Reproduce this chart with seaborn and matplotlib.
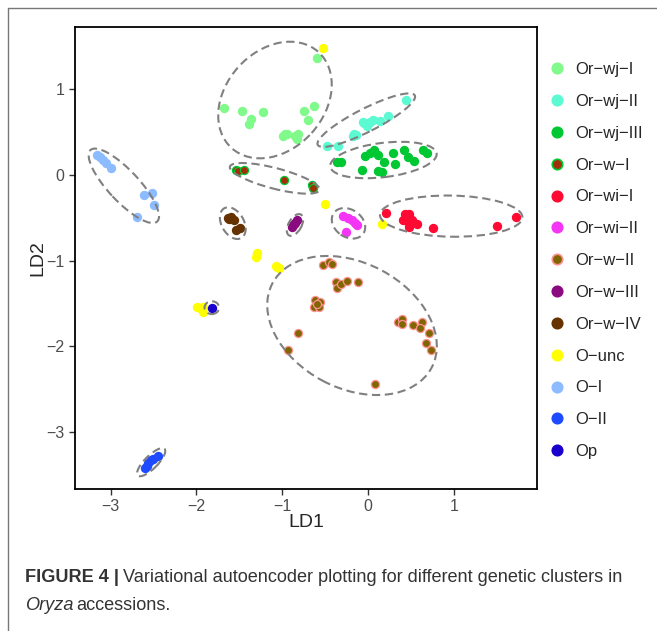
import matplotlib
matplotlib.use("Agg")
import matplotlib.pyplot as plt
from matplotlib.patches import Ellipse
from matplotlib.lines import Line2D
import pandas as pd
import seaborn as sns

# --- cluster coordinates (LD1, LD2) ---
or_wj_i_ld1 = [-0.59, -1.675, -1.465, -1.22, -1.364, -1.387, -0.742, -0.626, -0.696, -0.967, -0.94, -0.851, -0.812, -0.831, -0.987]
or_wj_i_ld2 = [1.36, 0.78, 0.75, 0.73, 0.653, 0.598, 0.747, 0.805, 0.638, 0.475, 0.48, 0.459, 0.475, 0.424, 0.459]

or_wj_ii_ld1 = [0.446, 0.23, 0.14, 0.062, 0.023, -0.043, -0.062, -0.015, -0.16, -0.178, -0.143, -0.478, -0.353]
or_wj_ii_ld2 = [0.875, 0.692, 0.63, 0.642, 0.622, 0.603, 0.622, 0.572, 0.475, 0.459, 0.467, 0.342, 0.338]

or_wj_iii_ld1 = [-0.365, -0.315, -0.066, -0.035, 0.023, 0.07, 0.117, 0.186, 0.117, 0.163, 0.288, 0.315, 0.423, 0.463, 0.536, 0.645, 0.691]
or_wj_iii_ld2 = [0.148, 0.152, 0.058, 0.222, 0.26, 0.286, 0.233, 0.146, 0.05, 0.038, 0.253, 0.131, 0.292, 0.21, 0.163, 0.292, 0.26]

or_w_i_ld1 = [-1.544, -1.515, -1.449, -0.983, -0.653, -0.637]
or_w_i_ld2 = [0.064, 0.05, 0.058, -0.064, -0.117, -0.152]

or_wi_i_ld1 = [0.21, 0.431, 0.478, 0.411, 0.458, 0.509, 0.481, 0.575, 0.761, 1.5, 1.725]
or_wi_i_ld2 = [-0.447, -0.455, -0.455, -0.525, -0.533, -0.525, -0.603, -0.572, -0.622, -0.592, -0.494]

or_wi_ii_ld1 = [-0.288, -0.23, -0.186, -0.152, -0.125, -0.26]
or_wi_ii_ld2 = [-0.475, -0.505, -0.525, -0.557, -0.583, -0.662]

or_w_ii_ld1 = [-0.528, -0.451, -0.423, -0.373, -0.358, -0.315, -0.241, -0.113, -0.618, -0.559, -0.629, -0.571, -0.594,
               -0.812, -0.936, 0.353, 0.393, 0.393, 0.528, 0.626, 0.606, 0.714, 0.676, 0.734, 0.085]
or_w_ii_ld2 = [-1.05, -1.012, -1.038, -1.245, -1.322, -1.272, -1.233, -1.245, -1.459, -1.485, -1.544, -1.544, -1.505,
               -1.847, -2.042, -1.712, -1.684, -1.742, -1.75, -1.712, -1.789, -1.847, -1.964, -2.042, -2.439]

or_w_iii_ld1 = [-0.89, -0.85, -0.87, -0.83, -0.86]
or_w_iii_ld2 = [-0.61, -0.56, -0.585, -0.53, -0.57]

or_w_iv_ld1 = [-1.637, -1.597, -1.562, -1.535, -1.492, -1.62]
or_w_iv_ld2 = [-0.502, -0.487, -0.525, -0.645, -0.616, -0.51]

o_unc_ld1 = [-0.528, -0.5, 0.16, -1.297, -1.305, -1.072, -1.037, -1.06, -1.958, -1.92, -1.927, -1.99]
o_unc_ld2 = [1.478, -0.338, -0.575, -0.914, -0.957, -1.062, -1.089, -1.07, -1.555, -1.595, -1.537, -1.54]

o_i_ld1 = [-3.162, -3.124, -3.085, -3.054, -2.999, -2.607, -2.521, -2.491, -2.689]
o_i_ld2 = [0.233, 0.214, 0.175, 0.137, 0.078, -0.233, -0.207, -0.35, -0.494]

o_ii_ld1 = [-2.599, -2.561, -2.533, -2.502, -2.451, -2.576]
o_ii_ld2 = [-3.422, -3.364, -3.326, -3.317, -3.279, -3.396]

op_ld1 = [-1.822]
op_ld2 = [-1.548]

cluster_names = ["Or\u2212wj\u2212I", "Or\u2212wj\u2212II", "Or\u2212wj\u2212III", "Or\u2212w\u2212I", "Or\u2212wi\u2212I",
                 "Or\u2212wi\u2212II", "Or\u2212w\u2212II", "Or\u2212w\u2212III", "Or\u2212w\u2212IV", "O\u2212unc",
                 "O\u2212I", "O\u2212II", "Op"]
cluster_ld1 = [or_wj_i_ld1, or_wj_ii_ld1, or_wj_iii_ld1, or_w_i_ld1, or_wi_i_ld1, or_wi_ii_ld1, or_w_ii_ld1,
               or_w_iii_ld1, or_w_iv_ld1, o_unc_ld1, o_i_ld1, o_ii_ld1, op_ld1]
cluster_ld2 = [or_wj_i_ld2, or_wj_ii_ld2, or_wj_iii_ld2, or_w_i_ld2, or_wi_i_ld2, or_wi_ii_ld2, or_w_ii_ld2,
               or_w_iii_ld2, or_w_iv_ld2, o_unc_ld2, o_i_ld2, o_ii_ld2, op_ld2]

fill_colors = ["#80FA8A", "#5CFAD2", "#00C832", "#A0300A", "#FF0A32", "#F535F5", "#806600",
               "#8B0A80", "#663300", "#FFFF00", "#8DBBFF", "#1E4BFF", "#1A00CC"]
edge_colors = ["#80FA8A", "#5CFAD2", "#00C832", "#00C832", "#FF0A32", "#F535F5", "#FF9090",
               "#8B0A80", "#663300", "#FFFF00", "#8DBBFF", "#1E4BFF", "#1A00CC"]

# dashed group ellipses: centre, full width/height, angle (deg)
ell_cx = [-1.084, -0.02, 0.18, -1.087, 0.97, -0.227, -0.186, -0.851, -1.576, -2.846, -2.527, -1.82]
ell_cy = [0.875, 0.64, 0.175, -0.039, -0.48, -0.564, -1.756, -0.583, -0.562, -0.126, -3.351, -1.548]
ell_w = [1.51, 1.27, 1.25, 1.08, 1.66, 0.42, 2.1, 0.28, 0.40, 1.14, 0.44, 0.17]
ell_h = [1.15, 0.27, 0.40, 0.24, 0.48, 0.32, 1.46, 0.15, 0.26, 0.36, 0.15, 0.15]
ell_ang = [48, 27, 7, -14.6, -1, -35, -28, 60, -60, -47, 45, 0]

frames = []
for name, xs, ys in zip(cluster_names, cluster_ld1, cluster_ld2):
    frames.append(pd.DataFrame({"LD1": xs, "LD2": ys, "cluster": name}))
df = pd.concat(frames, ignore_index=True)

sns.set_style("ticks")
plt.rcParams["font.family"] = ["Liberation Sans", "DejaVu Sans"]

fig = plt.figure(figsize=(6.57, 6.31), dpi=100)
ax = fig.add_axes([75 / 657, 1 - 489 / 631, (537 - 75) / 657, (489 - 27) / 631])

for name, fc, ec in zip(cluster_names, fill_colors, edge_colors):
    sub = df[df["cluster"] == name]
    sns.scatterplot(data=sub, x="LD1", y="LD2", color=fc, edgecolor=ec, linewidth=0.9,
                    s=34, ax=ax, label=name, zorder=3)

for cx, cy, w, h, a in zip(ell_cx, ell_cy, ell_w, ell_h, ell_ang):
    ax.add_patch(Ellipse((cx, cy), w, h, angle=a, fill=False, edgecolor="#808080",
                         linewidth=1.5, linestyle=(0, (4, 2.2)), zorder=4))

ax.set_xlim(-3.415, 1.97)
ax.set_ylim(-3.664, 1.727)
ax.set_xticks([-3, -2, -1, 0, 1])
ax.set_yticks([-3, -2, -1, 0, 1])
ax.set_xticklabels(["\u22123", "\u22122", "\u22121", "0", "1"])
ax.set_yticklabels(["\u22123", "\u22122", "\u22121", "0", "1"])
ax.tick_params(labelsize=11.5, labelcolor="#4D4D4D", color="#333333", length=4, width=1)
for sp in ax.spines.values():
    sp.set_visible(True)
    sp.set_linewidth(1.3)
    sp.set_color("black")
ax.set_xlabel("LD1", fontsize=14, labelpad=0)
ax.set_ylabel("LD2", fontsize=14, labelpad=0)

handles = [Line2D([], [], linestyle="none", marker="o", markersize=7.5, markerfacecolor=fc,
                  markeredgecolor=ec, markeredgewidth=1.2) for fc, ec in zip(fill_colors, edge_colors)]
ax.legend(handles, cluster_names, loc="upper left", bbox_to_anchor=(549 / 657, 1 - 62 / 631),
          bbox_transform=fig.transFigure, frameon=False, fontsize=12, labelspacing=1.01,
          handletextpad=0.55, handlelength=1.0, borderaxespad=0, borderpad=0)

# outer frame of the journal figure
fig.add_artist(Line2D([8 / 657, 1], [1 - 8 / 631, 1 - 8 / 631], transform=fig.transFigure, color="#777777", lw=1))
fig.add_artist(Line2D([8 / 657, 8 / 657], [0, 1 - 8 / 631], transform=fig.transFigure, color="#777777", lw=1))

# caption
cap_size = 13.1
fig.canvas.draw()
r = fig.canvas.get_renderer()
t1 = fig.text(25 / 657, 1 - 578 / 631, "FIGURE 4 |", fontsize=cap_size, fontweight="bold", color="#333333", va="center")
bb = t1.get_window_extent(renderer=r)
fig.text((bb.x1 + 4) / 657, 1 - 578 / 631,
         "Variational autoencoder plotting for different genetic clusters in",
         fontsize=cap_size, color="#333333", va="center")
t3 = fig.text(25 / 657, 1 - 605 / 631, "Oryza", fontsize=cap_size, fontstyle="italic", color="#333333", va="center")
bb3 = t3.get_window_extent(renderer=r)
fig.text((bb3.x1 + 3) / 657, 1 - 605 / 631, "accessions.", fontsize=cap_size, color="#333333", va="center")

fig.savefig("out.png", dpi=100)
